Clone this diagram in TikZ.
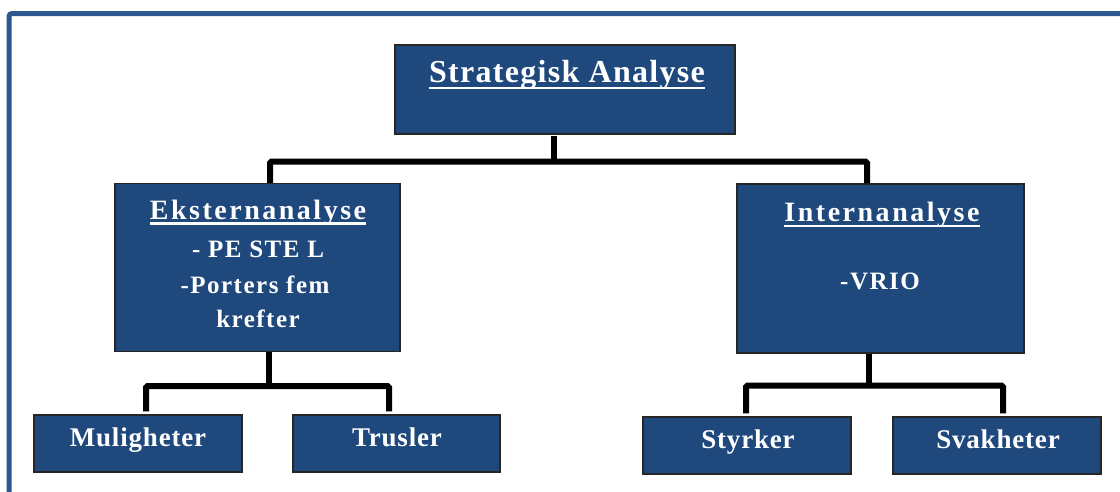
\documentclass[tikz,border=0pt]{standalone}
\usepackage{fontspec}
\setmainfont{Liberation Serif}
\newfontfamily\titlefont[LetterSpace=4]{Liberation Serif}
\newfontfamily\headfont[LetterSpace=9]{Liberation Serif}
\newfontfamily\bodyfont[LetterSpace=6]{Liberation Serif}
\newfontfamily\leaffont[LetterSpace=3]{Liberation Serif}
\definecolor{boxblue}{RGB}{31,73,125}
\definecolor{frameblue}{RGB}{44,88,143}
\begin{document}
\begin{tikzpicture}[x=1pt,y=-1pt,
  box/.style 2 args={draw=black!85, line width=1.3pt, fill=boxblue, inner sep=0pt,
    minimum width=#1, minimum height=#2},
  txt/.style={text=white, inner sep=0pt, anchor=base},
  ttl/.style={txt, font=\titlefont\bfseries\fontsize{32}{38}\selectfont},
  hd/.style={txt, font=\headfont\bfseries\fontsize{28}{34}\selectfont},
  bd/.style={txt, font=\bodyfont\bfseries\fontsize{25}{30}\selectfont},
  lf/.style={txt, font=\leaffont\bfseries\fontsize{27}{32}\selectfont},
  conn/.style={draw=black, line width=6pt, rounded corners=1.5pt},
  uline/.style={draw=white, line width=2.2pt}]
\useasboundingbox (0,0) rectangle (1120,491);
\clip (0,0) rectangle (1120,491);
% outer frame
\draw[frameblue, line width=5pt, rounded corners=3pt] (9,13.5) rectangle (1140,505);
% boxes
\node[box={340pt}{89pt}] (top) at (565,89.5) {};
\node[box={285pt}{168pt}] (ext) at (257.5,267.5) {};
\node[box={287pt}{169pt}] (int) at (880.5,268.5) {};
\node[box={208pt}{57pt}] (mul) at (138,443.5) {};
\node[box={207pt}{57pt}] (tru) at (396.5,443.5) {};
\node[box={208pt}{57pt}] (sty) at (747,445.5) {};
\node[box={208pt}{57pt}] (sva) at (997,445.5) {};
% texts
\node[ttl] (tt) at (567,82) {Strategisk Analyse};
\draw[uline, line width=2.5pt] ([yshift=-6pt]tt.base west) -- ([yshift=-6pt]tt.base east);
\node[hd] (e1) at (258,219) {Eksternanalyse};
\draw[uline] ([yshift=-4.5pt]e1.base west) -- ([yshift=-4.5pt]e1.base east);
\node[bd] (e2) at (258,257) {- PE STE L};
\node[bd] (e3) at (255,293) {-Porters fem};
\node[bd] (e4) at (258,327) {krefter};
\node[hd] (i1) at (882,221) {Internanalyse};
\draw[uline] ([yshift=-5pt]i1.base west) -- ([yshift=-5pt]i1.base east);
\node[bd] (i2) at (880,289) {-VRIO};
\node[lf] (m1) at (138,446) {Muligheter};
\node[lf] (t1) at (397,446) {Trusler};
\node[lf] (s1) at (748,448) {Styrker};
\node[lf] (v1) at (998,448) {Svakheter};
% connectors
\draw[conn] ([xshift=-11pt,yshift=-1pt]top.south) -- ++(0,26) coordinate (j1);
\draw[conn] ([xshift=12.5pt]ext.north) |- (j1) -| ([xshift=-13.5pt]int.north);
\draw[conn] ([xshift=11.5pt]ext.south) -- ++(0,34) coordinate (j2);
\draw[conn] ([xshift=8pt,yshift=3pt]mul.north) |- (j2) -| ([xshift=-7.5pt,yshift=3pt]tru.north);
\draw[conn] ([xshift=-11.5pt]int.south) -- ++(0,32) coordinate (j3);
\draw[conn] ([xshift=-1pt,yshift=3pt]sty.north) |- (j3) -| ([xshift=6pt,yshift=3pt]sva.north);
\end{tikzpicture}
\end{document}
